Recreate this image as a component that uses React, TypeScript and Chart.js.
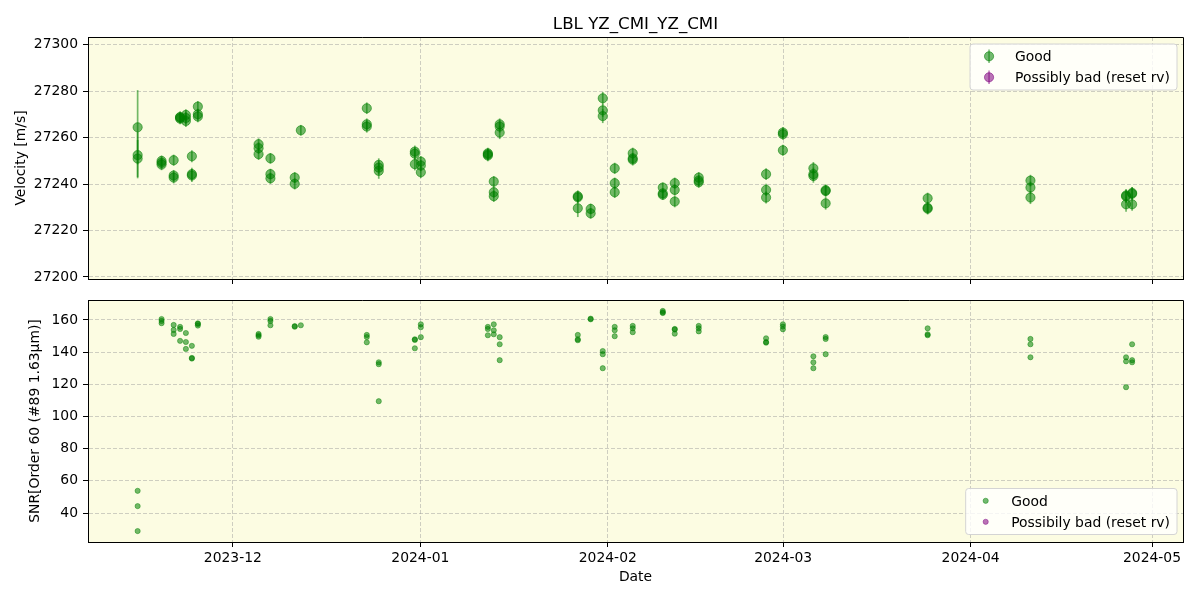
import React, { useEffect, useRef } from 'react';
import { Chart, registerables } from 'chart.js';

Chart.register(...registerables);

const FONT = "'DejaVu Sans', sans-serif";

// ---- data (one line per night) ----
const obsTimes: string[] = [
  '2023-11-15T06:00', '2023-11-15T06:00', '2023-11-15T06:00',
  '2023-11-19T05:00', '2023-11-19T05:00', '2023-11-19T05:00',
  '2023-11-21T05:00', '2023-11-21T05:00', '2023-11-21T05:00',
  '2023-11-22T06:30', '2023-11-22T06:30', '2023-11-22T06:30',
  '2023-11-23T05:30', '2023-11-23T05:30', '2023-11-23T05:30',
  '2023-11-24T05:15', '2023-11-24T05:15', '2023-11-24T05:15',
  '2023-11-25T05:00', '2023-11-25T05:00', '2023-11-25T05:00',
  '2023-12-05T06:00', '2023-12-05T06:00', '2023-12-05T06:00',
  '2023-12-07T05:00', '2023-12-07T05:00', '2023-12-07T05:00',
  '2023-12-11T05:30', '2023-12-11T05:30',
  '2023-12-12T05:45',
  '2023-12-23T03:30', '2023-12-23T03:30', '2023-12-23T03:30',
  '2023-12-25T03:00', '2023-12-25T03:00', '2023-12-25T03:00',
  '2023-12-31T02:15', '2023-12-31T02:15', '2023-12-31T02:15',
  '2024-01-01T02:00', '2024-01-01T02:00', '2024-01-01T02:00',
  '2024-01-12T04:00', '2024-01-12T04:00', '2024-01-12T04:00',
  '2024-01-13T03:30', '2024-01-13T03:30', '2024-01-13T03:30',
  '2024-01-14T03:00', '2024-01-14T03:00', '2024-01-14T03:00',
  '2024-01-27T01:00', '2024-01-27T01:00', '2024-01-27T01:00',
  '2024-01-29T04:00', '2024-01-29T04:00',
  '2024-01-31T04:00', '2024-01-31T04:00', '2024-01-31T04:00',
  '2024-02-02T03:30', '2024-02-02T03:30', '2024-02-02T03:30',
  '2024-02-05T03:00', '2024-02-05T03:00', '2024-02-05T03:00',
  '2024-02-10T02:15', '2024-02-10T02:15', '2024-02-10T02:15',
  '2024-02-12T01:45', '2024-02-12T01:45', '2024-02-12T01:45',
  '2024-02-16T01:00', '2024-02-16T01:00', '2024-02-16T01:00',
  '2024-02-27T04:15', '2024-02-27T04:15', '2024-02-27T04:15',
  '2024-02-29T23:00', '2024-02-29T23:00', '2024-02-29T23:00',
  '2024-03-06T00:00', '2024-03-06T00:00', '2024-03-06T00:00',
  '2024-03-08T00:45', '2024-03-08T00:45', '2024-03-08T00:45',
  '2024-03-24T21:30', '2024-03-24T21:30', '2024-03-24T21:30',
  '2024-04-10T21:30', '2024-04-10T21:30', '2024-04-10T21:30',
  '2024-04-26T17:00', '2024-04-26T17:00', '2024-04-26T17:00',
  '2024-04-27T17:00', '2024-04-27T17:00', '2024-04-27T17:00',
];

const velocity: number[] = [
  27264.5, 27252.5, 27251.0,
  27250.0, 27249.2, 27248.4,
  27250.3, 27243.7, 27242.8,
  27268.7, 27268.2, 27268.9,
  27269.8, 27267.2, 27268.5,
  27252.0, 27244.3, 27243.7,
  27273.4, 27270.1, 27269.1,
  27257.2, 27255.5, 27252.9,
  27251.1, 27244.3, 27242.5,
  27242.8, 27240.1,
  27263.2,
  27272.7, 27265.8, 27264.8,
  27248.3, 27247.1, 27245.7,
  27254.0, 27253.1, 27248.6,
  27249.7, 27248.0, 27245.1,
  27253.3, 27252.8, 27252.3,
  27241.1, 27236.5, 27234.8,
  27265.8, 27264.8, 27262.2,
  27234.8, 27234.3, 27229.6,
  27229.3, 27227.4,
  27277.0, 27271.8, 27269.3,
  27246.8, 27240.4, 27236.5,
  27253.3, 27251.1, 27250.5,
  27238.5, 27236.0, 27235.4,
  27240.4, 27237.5, 27232.5,
  27242.8, 27241.5, 27240.8,
  27244.3, 27237.5, 27234.2,
  27262.2, 27261.5, 27254.6,
  27246.8, 27244.3, 27243.5,
  27237.4, 27237.0, 27231.7,
  27233.9, 27229.8, 27229.4,
  27241.5, 27238.5, 27234.2,
  27235.1, 27234.7, 27231.3,
  27236.2, 27235.8, 27231.3,
];

const velocityErr: number[] = [
  16, 10, 8,
  2.3, 2.3, 2.4,
  2.4, 2.4, 2.5,
  2.3, 2.4, 2.5,
  2.5, 2.6, 2.7,
  2.6, 2.8, 2.8,
  2.4, 2.4, 2.4,
  2.5, 2.5, 2.5,
  2.3, 2.3, 2.4,
  2.4, 2.4,
  2.3,
  2.5, 2.5, 2.6,
  2.8, 2.9, 3.4,
  2.6, 2.6, 2.7,
  2.4, 2.4, 2.5,
  2.4, 2.4, 2.5,
  2.4, 2.4, 2.5,
  2.5, 2.6, 2.8,
  2.5, 2.5, 3.8,
  2.3, 2.3,
  2.7, 2.8, 3.0,
  2.4, 2.4, 2.5,
  2.4, 2.4, 2.5,
  2.2, 2.2, 2.2,
  2.4, 2.4, 2.5,
  2.4, 2.4, 2.4,
  2.5, 2.6, 2.6,
  2.4, 2.4, 2.4,
  2.7, 2.8, 2.9,
  2.5, 2.5, 2.7,
  2.4, 2.5, 2.5,
  2.5, 2.6, 2.8,
  2.8, 2.8, 3.2,
  2.6, 2.8, 2.8,
];

const snrValues: number[] = [
  28.8, 44.3, 53.8,
  160.6, 159.4, 158.0,
  156.9, 153.8, 151.3,
  155.7, 154.4, 147.0,
  151.9, 146.3, 142.0,
  143.9, 136.4, 136.0,
  157.9, 157.5, 156.5,
  151.3, 150.5, 149.6,
  160.6, 159.4, 156.7,
  156.2, 155.8,
  156.7,
  150.7, 149.4, 146.1,
  133.7, 132.5, 109.5,
  148.0, 147.6, 142.4,
  157.3, 155.5, 149.3,
  155.7, 154.4, 150.5,
  157.3, 153.6, 151.1,
  149.3, 144.9, 135.0,
  150.7, 148.0, 147.4,
  160.8, 160.4,
  140.7, 138.7, 130.0,
  155.7, 153.6, 149.9,
  156.3, 154.8, 152.4,
  165.6, 164.8, 164.3,
  154.4, 154.0, 151.5,
  156.3, 154.8, 152.9,
  148.6, 146.3, 145.9,
  157.3, 155.9, 154.2,
  137.4, 133.7, 130.0,
  149.4, 148.2, 138.7,
  154.8, 151.1, 150.5,
  148.2, 144.9, 136.8,
  136.8, 134.3, 118.2,
  144.9, 135.0, 133.7,
];

// "Possibly bad (reset rv)" series: empty in this data set
const badTimes: string[] = [];
const badVelocity: number[] = [];
const badSnr: number[] = [];

const monthTickDates = ['2023-12-01T00:00', '2024-01-01T00:00', '2024-02-01T00:00', '2024-03-01T00:00', '2024-04-01T00:00', '2024-05-01T00:00'];
const monthTickLabels = ['2023-12', '2024-01', '2024-02', '2024-03', '2024-04', '2024-05'];
const dateRange = ['2023-11-07T01:00', '2024-05-06T03:00'];
const velocityTicks = [27200, 27220, 27240, 27260, 27280, 27300];
const velocityRange = [27199.1, 27303.4];
const snrTicks = [40, 60, 80, 100, 120, 140, 160];
const snrRange = [22, 172.4];

const chartTitle = 'LBL YZ_CMI_YZ_CMI';
const velocityLabel = 'Velocity [m/s]';
const snrLabel = 'SNR[Order 60 (#89 1.63μm)]';
const dateLabel = 'Date';
const topLegend = ['Good', 'Possibly bad (reset rv)'];
const bottomLegend = ['Good', 'Possibily bad (reset rv)'];

// ---- styles ----
const GREEN = 'rgba(0,128,0,0.55)';
const PURPLE = 'rgba(128,0,128,0.55)';
const BG = '#fcfce2';
const GRID = 'rgba(150,150,150,0.45)';

const toMs = (s: string) => Date.parse(s + 'Z');
const align = (p: number) => Math.round(p - 0.5) + 0.5;

const framePlugin = {
  id: 'frame',
  beforeDraw(chart: any) {
    const { ctx, chartArea: a } = chart;
    ctx.save();
    ctx.fillStyle = BG;
    ctx.fillRect(a.left, a.top, a.right - a.left, a.bottom - a.top);
    ctx.restore();
  },
  afterDraw(chart: any) {
    const { ctx, chartArea: a } = chart;
    const l = align(a.left), r = align(a.right), t = align(a.top), b = align(a.bottom);
    ctx.save();
    ctx.strokeStyle = '#000';
    ctx.lineWidth = 1;
    ctx.beginPath();
    ctx.moveTo(l, t);
    ctx.lineTo(r, t);
    ctx.lineTo(r, b);
    ctx.lineTo(l, b);
    ctx.closePath();
    ctx.stroke();
    ctx.restore();
  },
};

function legendPlugin(labels: string[], where: 'top' | 'bottom', kind: 'err' | 'dot') {
  return {
    id: 'customLegend' + where,
    afterDraw(chart: any) {
      const { ctx, chartArea: a } = chart;
      ctx.save();
      ctx.font = `13.9px ${FONT}`;
      const textW = Math.max(...labels.map((l) => ctx.measureText(l).width));
      const boxH = 46;
      const markerOff = kind === 'err' ? 19 : 20;
      const textOff = kind === 'err' ? 45 : 45.5;
      const boxW = textOff + textW + 7;
      const right = a.right - 6;
      const left = right - boxW;
      const top = where === 'top' ? a.top + 7 : a.bottom - 7.5 - boxH;
      const r = 3;
      ctx.beginPath();
      ctx.moveTo(left + r, top);
      ctx.lineTo(right - r, top);
      ctx.quadraticCurveTo(right, top, right, top + r);
      ctx.lineTo(right, top + boxH - r);
      ctx.quadraticCurveTo(right, top + boxH, right - r, top + boxH);
      ctx.lineTo(left + r, top + boxH);
      ctx.quadraticCurveTo(left, top + boxH, left, top + boxH - r);
      ctx.lineTo(left, top + r);
      ctx.quadraticCurveTo(left, top, left + r, top);
      ctx.closePath();
      ctx.fillStyle = 'rgba(255,255,255,0.8)';
      ctx.fill();
      ctx.strokeStyle = '#d4d4d4';
      ctx.lineWidth = 1;
      ctx.stroke();
      const colors = [GREEN, PURPLE];
      labels.forEach((lab, i) => {
        const cy = top + 12.3 + i * 21;
        const mx = left + markerOff;
        ctx.fillStyle = colors[i];
        ctx.strokeStyle = colors[i];
        if (kind === 'err') {
          ctx.lineWidth = 1.5;
          ctx.beginPath();
          ctx.moveTo(mx, cy - 6.7);
          ctx.lineTo(mx, cy + 6.7);
          ctx.stroke();
          ctx.beginPath();
          ctx.arc(mx, cy, 4.6, 0, Math.PI * 2);
          ctx.fill();
          ctx.lineWidth = 1;
          ctx.stroke();
        } else {
          ctx.beginPath();
          ctx.arc(mx, cy, 2.6, 0, Math.PI * 2);
          ctx.fill();
          ctx.lineWidth = 0.8;
          ctx.stroke();
        }
        ctx.fillStyle = '#000';
        ctx.textAlign = 'left';
        ctx.textBaseline = 'alphabetic';
        ctx.fillText(lab, left + textOff, cy + 5);
      });
      ctx.restore();
    },
  };
}

const titlePlugin = {
  id: 'figTitle',
  afterDraw(chart: any) {
    const { ctx, chartArea: a } = chart;
    ctx.save();
    ctx.font = `16.67px ${FONT}`;
    ctx.fillStyle = '#000';
    ctx.textAlign = 'center';
    ctx.textBaseline = 'alphabetic';
    ctx.fillText(chartTitle, (a.left + a.right) / 2, 29.3);
    ctx.restore();
  },
};

const errorBarPlugin = {
  id: 'errorBars',
  beforeDatasetsDraw(chart: any) {
    const { ctx, chartArea: a } = chart;
    const xs = chart.scales.x;
    const ys = chart.scales.y;
    ctx.save();
    ctx.beginPath();
    ctx.rect(a.left, a.top, a.right - a.left, a.bottom - a.top);
    ctx.clip();
    ctx.strokeStyle = GREEN;
    ctx.lineWidth = 1.7;
    obsTimes.forEach((t, i) => {
      const px = xs.getPixelForValue(toMs(t));
      const y1 = ys.getPixelForValue(velocity[i] - velocityErr[i]);
      const y2 = ys.getPixelForValue(velocity[i] + velocityErr[i]);
      ctx.beginPath();
      ctx.moveTo(px, y1);
      ctx.lineTo(px, y2);
      ctx.stroke();
    });
    ctx.restore();
  },
};

function xAxis(showLabels: boolean, height: number) {
  return {
    type: 'linear',
    min: toMs(dateRange[0]),
    max: toMs(dateRange[1]),
    afterBuildTicks(scale: any) {
      scale.ticks = monthTickDates.map((d) => ({ value: toMs(d) }));
    },
    afterFit(scale: any) {
      scale.height = height;
      scale.paddingLeft = 0;
      scale.paddingRight = 0;
      scale.paddingTop = 0;
      scale.paddingBottom = 0;
    },
    ticks: {
      display: showLabels,
      autoSkip: false,
      maxRotation: 0,
      minRotation: 0,
      padding: 3,
      color: '#000',
      font: { family: FONT, size: 13.9 },
      callback: (_v: any, i: number) => monthTickLabels[i],
    },
    grid: { color: GRID, lineWidth: 1, tickColor: '#000', tickLength: 5, tickWidth: 1 },
    border: { display: true, color: '#000', width: 1, dash: [4, 2] },
    title: {
      display: showLabels,
      text: dateLabel,
      color: '#000',
      font: { family: FONT, size: 13.9 },
      padding: { top: 0, bottom: 14.7 },
    },
  };
}

function yAxis(range: number[], ticks: number[], label: string, titleOffset: number) {
  return {
    type: 'linear',
    min: range[0],
    max: range[1],
    afterBuildTicks(scale: any) {
      scale.ticks = ticks.map((v) => ({ value: v }));
    },
    afterFit(scale: any) {
      scale.width = 88;
      scale.paddingLeft = 0;
      scale.paddingRight = 0;
      scale.paddingTop = 0;
      scale.paddingBottom = 0;
    },
    ticks: {
      color: '#000',
      padding: 5,
      font: { family: FONT, size: 13.9 },
      callback: (v: any) => String(v),
    },
    grid: { color: GRID, lineWidth: 1, tickColor: '#000', tickLength: 5, tickWidth: 1 },
    border: { display: true, color: '#000', width: 1, dash: [4, 2] },
    title: {
      display: true,
      text: label,
      color: '#000',
      font: { family: FONT, size: 13.9 },
      padding: { top: titleOffset, bottom: 0 },
    },
  };
}

export default function App() {
  const topRef = useRef<HTMLCanvasElement>(null);
  const botRef = useRef<HTMLCanvasElement>(null);

  useEffect(() => {
    const goodVel = obsTimes.map((t, i) => ({ x: toMs(t), y: velocity[i] }));
    const badVel = badTimes.map((t, i) => ({ x: toMs(t), y: badVelocity[i] }));
    const goodSnr = obsTimes.map((t, i) => ({ x: toMs(t), y: snrValues[i] }));
    const badSnrPts = badTimes.map((t, i) => ({ x: toMs(t), y: badSnr[i] }));

    const top = new Chart(topRef.current as HTMLCanvasElement, {
      type: 'scatter',
      data: {
        datasets: [
          { label: topLegend[0], data: goodVel, pointRadius: 4.6, pointHoverRadius: 4.6, backgroundColor: GREEN, borderColor: GREEN, borderWidth: 1 },
          { label: topLegend[1], data: badVel, pointRadius: 4.6, backgroundColor: PURPLE, borderColor: PURPLE, borderWidth: 1 },
        ],
      },
      options: {
        responsive: false,
        animation: false,
        layout: { padding: { left: 0, right: 17, top: 37, bottom: 0 } },
        plugins: { legend: { display: false }, tooltip: { enabled: false }, title: { display: false } },
        scales: {
          x: xAxis(false, 11) as any,
          y: yAxis(velocityRange, velocityTicks, velocityLabel, 12.7) as any,
        },
      },
      plugins: [framePlugin, errorBarPlugin, titlePlugin, legendPlugin(topLegend, 'top', 'err')],
    });

    const bot = new Chart(botRef.current as HTMLCanvasElement, {
      type: 'scatter',
      data: {
        datasets: [
          { label: bottomLegend[0], data: goodSnr, pointRadius: 2.6, pointHoverRadius: 2.6, backgroundColor: GREEN, borderColor: GREEN, borderWidth: 0.8 },
          { label: bottomLegend[1], data: badSnrPts, pointRadius: 2.6, backgroundColor: PURPLE, borderColor: PURPLE, borderWidth: 0.8 },
        ],
      },
      options: {
        responsive: false,
        animation: false,
        layout: { padding: { left: 0, right: 17, top: 10, bottom: 0 } },
        plugins: { legend: { display: false }, tooltip: { enabled: false }, title: { display: false } },
        scales: {
          x: xAxis(true, 58) as any,
          y: yAxis(snrRange, snrTicks, snrLabel, 27.4) as any,
        },
      },
      plugins: [framePlugin, legendPlugin(bottomLegend, 'bottom', 'dot')],
    });

    return () => {
      top.destroy();
      bot.destroy();
    };
  }, []);

  return (
    <div style={{ position: 'absolute', left: 0, top: 0, width: 1200, height: 600, background: '#fff' }}>
      <canvas ref={topRef} width={1200} height={290} style={{ position: 'absolute', left: 0, top: 0, width: 1200, height: 290 }} />
      <canvas ref={botRef} width={1200} height={310} style={{ position: 'absolute', left: 0, top: 290, width: 1200, height: 310 }} />
    </div>
  );
}
